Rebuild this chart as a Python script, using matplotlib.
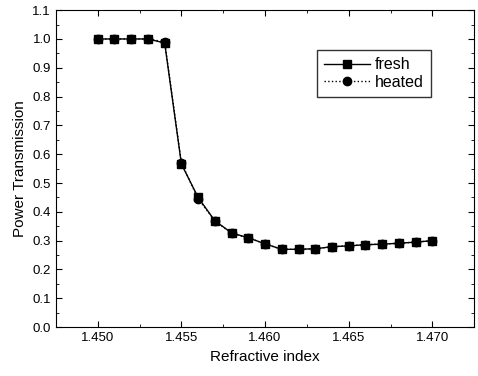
import matplotlib
matplotlib.use("Agg")
import matplotlib.pyplot as plt
from matplotlib.ticker import MultipleLocator

plt.rcParams["font.family"] = ["Liberation Sans", "DejaVu Sans"]

refractive_index = [1.450, 1.451, 1.452, 1.453, 1.454, 1.455, 1.456, 1.457, 1.458, 1.459, 1.460,
                    1.461, 1.462, 1.463, 1.464, 1.465, 1.466, 1.467, 1.468, 1.469, 1.470]
fresh = [1.0, 1.0, 1.0, 1.0, 0.986, 0.566, 0.45, 0.369, 0.327, 0.310, 0.289,
         0.270, 0.270, 0.272, 0.279, 0.282, 0.286, 0.288, 0.291, 0.295, 0.300]
heated = [1.0, 1.0, 1.0, 1.0, 0.99, 0.570, 0.445, 0.369, 0.325, 0.310, 0.289,
          0.270, 0.270, 0.272, 0.279, 0.282, 0.286, 0.288, 0.291, 0.295, 0.300]

fig = plt.figure(figsize=(4.78, 3.76), dpi=100)
ax = fig.add_axes([0.117, 0.130, 0.875, 0.843])

ax.plot(refractive_index, heated, linestyle=":", color="black", lw=1,
        marker="o", markersize=6, label="heated", zorder=2)
ax.plot(refractive_index, fresh, linestyle="-", color="black", lw=1,
        marker="s", markersize=5.5, label="fresh", zorder=3)

ax.set_xlim(1.4475, 1.4725)
ax.set_ylim(0.0, 1.1)
ax.xaxis.set_major_locator(MultipleLocator(0.005))
ax.xaxis.set_minor_locator(MultipleLocator(0.0025))
ax.yaxis.set_major_locator(MultipleLocator(0.1))
ax.yaxis.set_minor_locator(MultipleLocator(0.05))
ax.xaxis.set_major_formatter(matplotlib.ticker.FormatStrFormatter("%.3f"))
ax.yaxis.set_major_formatter(matplotlib.ticker.FormatStrFormatter("%.1f"))
ax.tick_params(which="both", direction="in", top=True, right=True, labelsize=9.5)
ax.tick_params(which="major", length=4)
ax.tick_params(which="minor", length=2)

ax.set_xlabel("Refractive index", fontsize=11)
ax.set_ylabel("Power Transmission", fontsize=11)

handles, labels = ax.get_legend_handles_labels()
leg = ax.legend(handles[::-1], labels[::-1], loc="upper left", bbox_to_anchor=(0.624, 0.874),
                borderaxespad=0, fontsize=11.5, frameon=True, fancybox=False, edgecolor="black",
                handlelength=2.9, handletextpad=0.3, borderpad=0.45, labelspacing=0.15)
leg.get_frame().set_linewidth(1)

fig.savefig("out.png", dpi=100)
